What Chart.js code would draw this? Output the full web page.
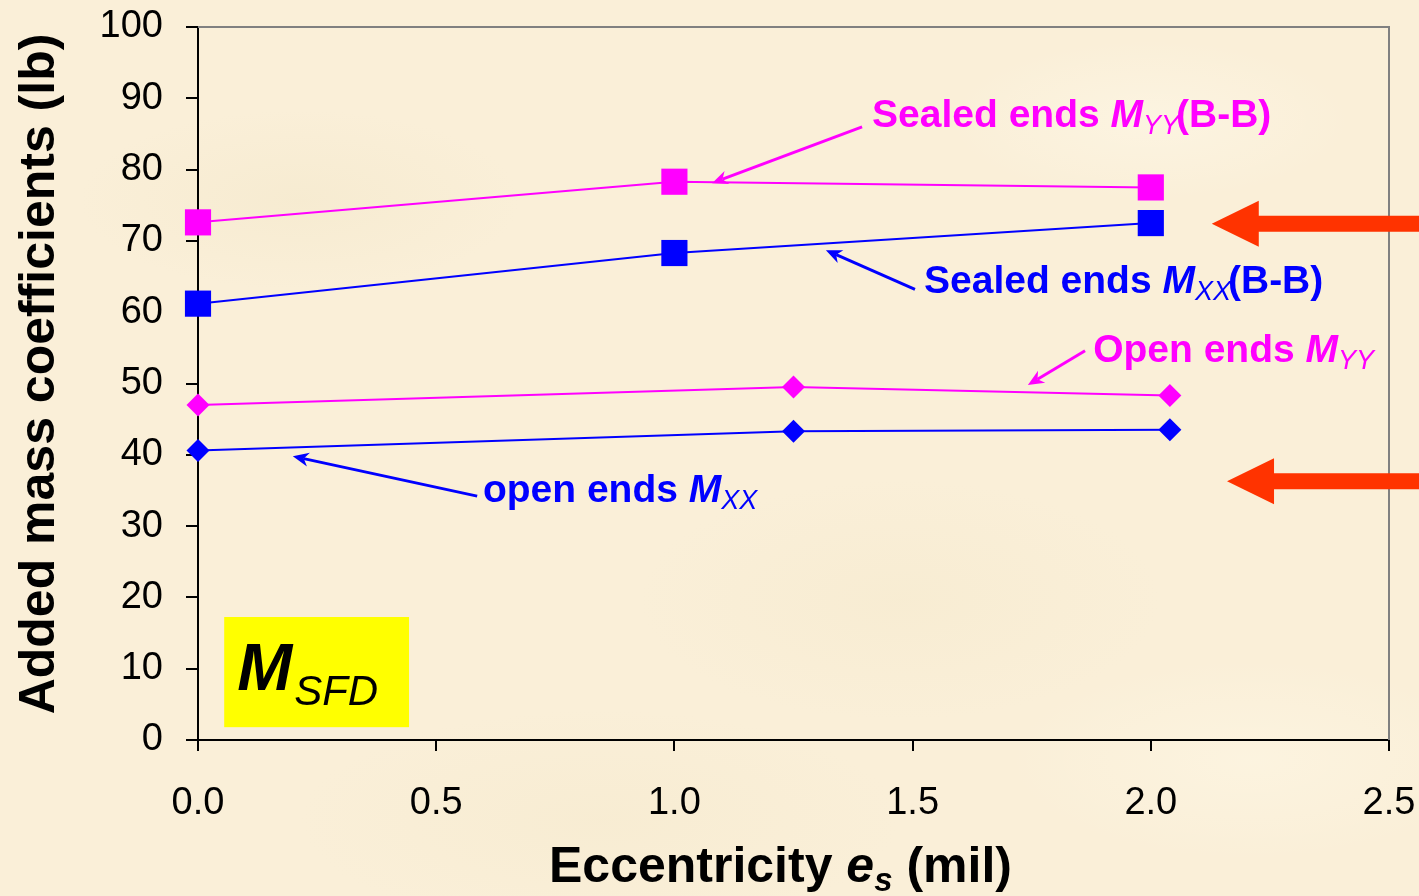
<!DOCTYPE html>
<html>
<head>
<meta charset="utf-8">
<title>Added mass coefficients</title>
<script src="https://cdn.jsdelivr.net/npm/chart.js@4.4.1/dist/chart.umd.min.js"></script>
<style>
    html, body { margin: 0; padding: 0; }
    body {
        width: 1419px; height: 896px; overflow: hidden;
        background-color: #faefd8;
        background-image:
            radial-gradient(ellipse 220px 90px at 300px 200px, rgba(240,228,196,0.35), transparent),
            radial-gradient(ellipse 260px 120px at 900px 600px, rgba(242,230,198,0.3), transparent),
            radial-gradient(ellipse 200px 80px at 1150px 120px, rgba(255,250,236,0.45), transparent),
            radial-gradient(ellipse 300px 110px at 600px 820px, rgba(242,230,198,0.3), transparent),
            radial-gradient(ellipse 240px 100px at 1250px 760px, rgba(255,249,232,0.45), transparent);
    }
</style>
</head>
<body>
<canvas id="chart" width="1419" height="896"></canvas>
<script>
// eccentricity (mil) and added mass (lb) for each test case
const sealedYYx = [0, 1.0, 2.0];
const sealedYYy = [72.6, 78.3, 77.5];
const sealedXXx = [0, 1.0, 2.0];
const sealedXXy = [61.2, 68.3, 72.5];
const openYYx = [0, 1.25, 2.04];
const openYYy = [47.0, 49.5, 48.3];
const openXXx = [0, 1.25, 2.04];
const openXXy = [40.6, 43.3, 43.5];

const xTicks = [0, 0.5, 1.0, 1.5, 2.0, 2.5];
const yTicks = [0, 10, 20, 30, 40, 50, 60, 70, 80, 90, 100];

const FONT = '"Liberation Sans", Arial, sans-serif';
const MAGENTA = '#ff00ff';
const BLUE = '#0000ff';

function pts(xs, ys) {
    return xs.map((x, i) => ({x: x, y: ys[i]}));
}

function line(label, xs, ys, color, shape, r) {
    return {
        label: label,
        data: pts(xs, ys),
        showLine: true,
        clip: false,
        borderColor: color,
        backgroundColor: color,
        borderWidth: 2,
        pointStyle: shape,
        pointRadius: r,
        pointHoverRadius: r,
        pointBorderWidth: 0
    };
}

// text pieces with sub/superscripts, drawn one after another
function runs(ctx, x, y, parts, color) {
    ctx.save();
    ctx.fillStyle = color;
    ctx.textAlign = 'left';
    ctx.textBaseline = 'alphabetic';
    for (const p of parts) {
        ctx.font = p.f;
        ctx.fillText(p.t, x, y + (p.dy || 0));
        x += ctx.measureText(p.t).width + (p.k || 0);
    }
    ctx.restore();
}

function arrow(ctx, a, b, color) {
    const ang = Math.atan2(b[1] - a[1], b[0] - a[0]);
    const hl = 16, hw = 7;
    ctx.save();
    ctx.strokeStyle = color;
    ctx.fillStyle = color;
    ctx.lineWidth = 3;
    ctx.beginPath();
    ctx.moveTo(a[0], a[1]);
    ctx.lineTo(b[0] - Math.cos(ang) * hl * 0.7, b[1] - Math.sin(ang) * hl * 0.7);
    ctx.stroke();
    ctx.translate(b[0], b[1]);
    ctx.rotate(ang);
    ctx.beginPath();
    ctx.moveTo(0, 0);
    ctx.lineTo(-hl, -hw);
    ctx.lineTo(-hl * 0.7, 0);
    ctx.lineTo(-hl, hw);
    ctx.closePath();
    ctx.fill();
    ctx.restore();
}

// fat red pointer, tip given, shaft runs off to the right edge
function bigArrow(ctx, tip, w) {
    const [x, y] = tip;
    ctx.save();
    ctx.fillStyle = '#ff3300';
    ctx.beginPath();
    ctx.moveTo(x, y);
    ctx.lineTo(x + 47, y - 23);
    ctx.lineTo(x + 47, y - 8);
    ctx.lineTo(w, y - 8);
    ctx.lineTo(w, y + 8);
    ctx.lineTo(x + 47, y + 8);
    ctx.lineTo(x + 47, y + 23);
    ctx.closePath();
    ctx.fill();
    ctx.restore();
}

const B = 'bold 39px ' + FONT;
const BI = 'italic bold 39px ' + FONT;
const SUB = 'italic 27px ' + FONT;

// notes in data units: [x, y]
const notes = [
    {at: [1.415, 86.0], color: MAGENTA, from: [1.394, 86.0], to: [1.079, 78.1],
        parts: [{t: 'Sealed ends ', f: B}, {t: 'M', f: BI}, {t: 'YY', f: SUB, dy: 7, k: -3}, {t: '(B-B)', f: B}]},
    {at: [1.524, 62.7], color: BLUE, from: [1.505, 63.2], to: [1.318, 68.7],
        parts: [{t: 'Sealed ends ', f: B}, {t: 'M', f: BI}, {t: 'XX', f: SUB, dy: 7, k: -3}, {t: '(B-B)', f: B}]},
    {at: [1.879, 53.0], color: MAGENTA, from: [1.862, 54.6], to: [1.742, 49.8],
        parts: [{t: 'Open ends ', f: B}, {t: 'M', f: BI}, {t: 'YY', f: SUB, dy: 7}]},
    {at: [0.598, 33.4], color: BLUE, from: [0.586, 34.2], to: [0.199, 39.8],
        parts: [{t: 'open ends ', f: B}, {t: 'M', f: BI}, {t: 'XX', f: SUB, dy: 7}]}
];
const pointers = [[2.128, 72.4], [2.160, 36.3]];
const tagBox = [0.055, 17.25, 0.443, 1.8];

const decor = {
    id: 'decor',
    beforeDatasetsDraw(c) {
        const ctx = c.ctx, a = c.chartArea;
        ctx.save();
        ctx.strokeStyle = '#808080';
        ctx.lineWidth = 2;
        ctx.beginPath();
        ctx.moveTo(a.left, a.top);
        ctx.lineTo(a.right, a.top);
        ctx.lineTo(a.right, a.bottom);
        ctx.stroke();
        ctx.restore();

        // yellow tag box
        const sx = c.scales.x, sy = c.scales.y;
        const x0 = sx.getPixelForValue(tagBox[0]), y0 = sy.getPixelForValue(tagBox[1]);
        const x1 = sx.getPixelForValue(tagBox[2]), y1 = sy.getPixelForValue(tagBox[3]);
        ctx.save();
        ctx.fillStyle = '#ffff00';
        ctx.fillRect(x0, y0, x1 - x0, y1 - y0);
        ctx.restore();
        runs(ctx, x0 + 13, y0 + 73, [
            {t: 'M', f: 'italic bold 66px ' + FONT, k: 2},
            {t: 'SFD', f: 'italic 42px ' + FONT, dy: 15}
        ], '#000');
    },
    afterDraw(c) {
        const ctx = c.ctx, sx = c.scales.x, sy = c.scales.y;
        const p = v => [sx.getPixelForValue(v[0]), sy.getPixelForValue(v[1])];

        for (const n of notes) {
            arrow(ctx, p(n.from), p(n.to), n.color);
            const q = p(n.at);
            runs(ctx, q[0], q[1], n.parts, n.color);
        }
        for (const t of pointers) bigArrow(ctx, p(t), c.width);

        // axis titles
        runs(ctx, 549, 882, [
            {t: 'Eccentricity ', f: 'bold 50px ' + FONT},
            {t: 'e', f: 'italic bold 50px ' + FONT},
            {t: 's', f: 'italic bold 33px ' + FONT, dy: 9},
            {t: ' (mil)', f: 'bold 50px ' + FONT}
        ], '#000');

        ctx.save();
        ctx.translate(54, 374);
        ctx.rotate(-Math.PI / 2);
        ctx.font = 'bold 50px ' + FONT;
        ctx.fillStyle = '#000';
        ctx.textAlign = 'center';
        ctx.textBaseline = 'alphabetic';
        ctx.fillText('Added mass coefficients (lb)', 0, 0);
        ctx.restore();
    }
};

const chart = new Chart(document.getElementById('chart').getContext('2d'), {
    type: 'scatter',
    data: {
        datasets: [
            line('Sealed ends MYY (B-B)', sealedYYx, sealedYYy, MAGENTA, 'rect', 18.5),
            line('Sealed ends MXX (B-B)', sealedXXx, sealedXXy, BLUE, 'rect', 18.5),
            line('Open ends MYY', openYYx, openYYy, MAGENTA, 'rectRot', 11.5),
            line('open ends MXX', openXXx, openXXy, BLUE, 'rectRot', 11.5)
        ]
    },
    options: {
        responsive: false,
        animation: false,
        layout: {padding: {top: 27, right: 30, left: 0, bottom: 0}},
        plugins: {legend: {display: false}, tooltip: {enabled: false}},
        scales: {
            x: {
                type: 'linear',
                min: 0, max: 2.5,
                afterFit: s => { s.height = 156; s.paddingLeft = 0; s.paddingRight = 0; },
                afterBuildTicks: s => { s.ticks = xTicks.map(v => ({value: v})); },
                ticks: {
                    color: '#000',
                    font: {family: FONT, size: 38},
                    padding: 30,
                    maxRotation: 0,
                    callback: v => v.toFixed(1)
                },
                grid: {drawOnChartArea: false, tickLength: 11, tickColor: '#000', lineWidth: 2},
                border: {color: '#000', width: 2}
            },
            y: {
                min: 0, max: 100,
                afterFit: s => { s.width = 198; s.paddingTop = 0; s.paddingBottom = 0; },
                afterBuildTicks: s => { s.ticks = yTicks.map(v => ({value: v})); },
                ticks: {
                    color: '#000',
                    font: {family: FONT, size: 38},
                    padding: 23,
                    callback: v => String(v)
                },
                grid: {drawOnChartArea: false, tickLength: 12, tickColor: '#000', lineWidth: 2},
                border: {color: '#000', width: 2}
            }
        }
    },
    plugins: [decor]
});
</script>
</body>
</html>
